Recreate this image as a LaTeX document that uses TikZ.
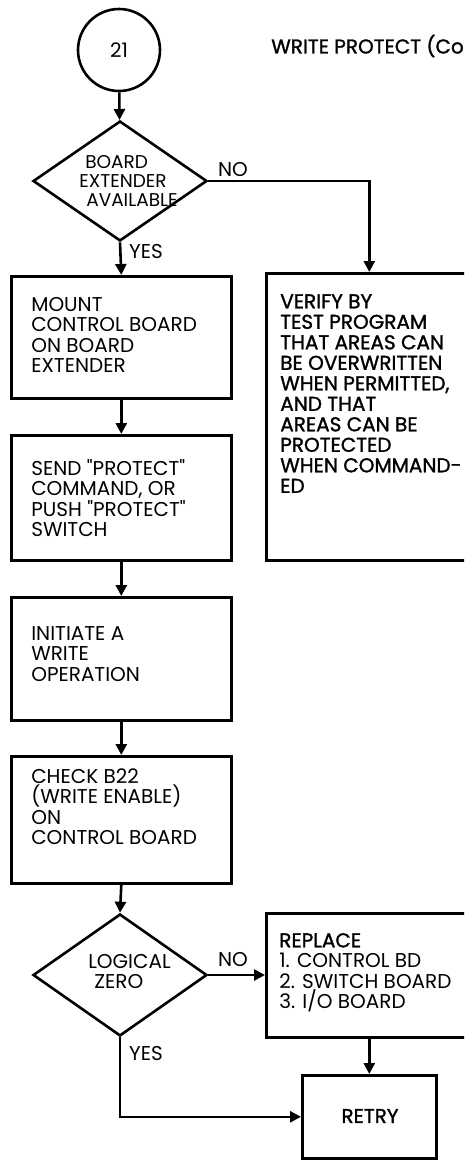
\documentclass[tikz,border=0pt]{standalone}
\usepackage{fontspec}
\newfontfamily\pop{Poppins}
\newfontfamily\heavy[FakeBold=1.3]{Poppins}
\usetikzlibrary{shapes.geometric,arrows.meta,calc}
\newcommand{\tp}{\rule{0pt}{17pt}}
\begin{document}
\begin{tikzpicture}[x=1pt,y=-1pt,
  line width=2.6pt,
  every node/.style={font=\pop\fontsize{20}{20.5}\selectfont},
  box/.style={draw, rectangle, inner sep=0pt, anchor=north west},
  dia/.style={draw, diamond, inner sep=0pt},
  txt/.style={draw=none, inner sep=0pt, anchor=north west, align=left},
  arr/.style={-{Triangle[length=11pt,width=11pt]}},
  lbl/.style={inner sep=0pt}
]
\useasboundingbox (0,0) rectangle (464,1160);
\clip (0,0) rectangle (464,1160);

% title
\node[lbl, anchor=west] (title) at (270,46) {\heavy WRITE PROTECT (Co};

% left column
\node[circle, draw, minimum size=82pt, inner sep=0pt] (c21) at (119,50) {21};
\node[dia, minimum width=174pt, minimum height=120pt] (d1) at (120,181) {};
\node[txt, font=\pop\fontsize{18.5}{19}\selectfont] (d1t) at (78,150) {\tp\hspace*{6pt}BOARD\\EXTENDER\\\hspace*{7pt}AVAILABLE};

\node[box, minimum width=220pt, minimum height=122pt] (mount) at (10,275) {};
\node[txt] (mountt) at (30,293) {\tp MOUNT\\CONTROL BOARD\\ON BOARD\\EXTENDER};

\node[box, minimum width=220pt, minimum height=125pt] (send) at (10,434) {};
\node[txt] (sendt) at (30,457) {\tp SEND "PROTECT"\\COMMAND, OR\\PUSH "PROTECT"\\SWITCH};

\node[box, minimum width=220pt, minimum height=123pt] (init) at (10,596) {};
\node[txt] (initt) at (30,622) {\tp INITIATE A\\WRITE\\OPERATION};

\node[box, minimum width=220pt, minimum height=127pt] (check) at (10,755) {};
\node[txt] (checkt) at (30,765) {\tp CHECK B22\\(WRITE ENABLE)\\ON\\CONTROL BOARD};

\node[dia, minimum width=174pt, minimum height=122pt] (d2) at (120,975) {};
\node[txt] (d2t) at (87,950) {\tp LOGICAL\\\hspace*{6pt}ZERO};

% right column
\node[box, minimum width=206pt, minimum height=287pt] (verify) at (265,272) {};
\node[txt] (verifyt) at (279,290) {\heavy\tp VERIFY BY\\\heavy TEST PROGRAM\\\heavy THAT AREAS CAN\\\heavy BE OVERWRITTEN\\\heavy WHEN PERMITTED,\\\heavy AND THAT\\\heavy AREAS CAN BE\\\heavy PROTECTED\\\heavy WHEN COMMAND-\\\heavy ED};

\node[box, minimum width=206pt, minimum height=124pt] (replace) at (265,912) {};
\node[txt] (replacet) at (278,929) {\tp{\heavy REPLACE}\\1. CONTROL BD\\2. SWITCH BOARD\\3. I/O BOARD};

\node[box, minimum width=134pt, minimum height=83pt] (retry) at (301,1074) {};
\node[lbl] (retryt) at (370,1116) {\heavy RETRY};

% labels
\node[lbl] (no1) at (233,170) {NO};
\node[lbl] (yes1) at (146,252) {YES};
\node[lbl] (no2) at (233,960) {NO};
\node[lbl] (yes2) at (146,1053) {YES};

% connectors
\draw[arr] (c21) -- (d1);
\draw[arr] (d1.south) -- (mount.north);
\draw[arr] (d1.east) -| (verify.north);
\draw[arr] (mount) -- (send);
\draw[arr] (send) -- (init);
\draw[arr] (init) -- (check);
\draw[arr] (check.south) -- (d2.north);
\draw[arr] (d2.east) -- (d2.east -| replace.west);
\draw[arr] (replace.south) -- (retry.north);
\draw[arr] (d2.south) |- (retry.west);
\end{tikzpicture}
\end{document}
